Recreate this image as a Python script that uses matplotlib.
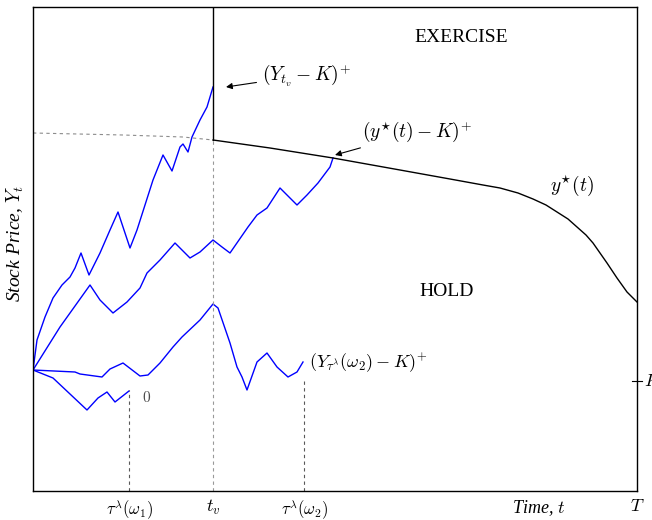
import numpy as np
import matplotlib
matplotlib.use('Agg')
import matplotlib.pyplot as plt

plt.rcParams['mathtext.fontset'] = 'cm'
plt.rcParams['font.family'] = 'Liberation Serif'

# --- data (time t, price s) ---
path1_t = [0, 4, 12, 20, 29, 37, 42, 48, 56, 67, 77, 85, 91, 97, 104, 120, 130, 139, 147, 150, 155, 159, 167, 174, 180]
path1_s = [121, 151, 174, 193, 206, 214, 223, 238, 216, 238, 261, 279, 261, 243, 261, 311, 336, 320, 344, 347, 339, 354, 371, 384, 404]

path2_t = [0, 27, 57, 67, 80, 94, 107, 114, 127, 142, 157, 167, 180, 189, 197, 215, 224, 234, 247, 264, 274, 285, 297, 300]
path2_s = [121, 164, 206, 191, 178, 189, 203, 218, 231, 248, 233, 239, 251, 244, 238, 264, 276, 283, 303, 286, 296, 308, 324, 333]

path3_t = [0, 42, 47, 69, 77, 90, 107, 115, 127, 140, 149, 167, 180, 185, 197, 204, 209, 214, 224, 234, 244, 255, 264, 270]
path3_s = [121, 119, 117, 114, 122, 128, 115, 116, 128, 144, 154, 171, 187, 183, 148, 124, 114, 101, 129, 138, 124, 114, 119, 129]

path4_t = [0, 20, 54, 65, 74, 82, 96]
path4_s = [121, 113, 81, 93, 99, 89, 100]

bound_t = [180, 237, 300, 367, 417, 450, 467, 485, 500, 513, 524, 535, 544, 553, 560, 567, 574, 584, 594, 604]
bound_s = [351, 343, 333, 321, 312, 306, 303, 298, 292, 286, 279, 272, 264, 256, 248, 238, 228, 213, 199, 189]

ext_t = [0, 90, 150, 180]
ext_s = [358, 356, 354, 351]

T = 604
S_TOP = 484
K = 110
t_v = 180
tau1, tau1_s = 96, 101
tau2, tau2_s = 271, 113

fig = plt.figure(figsize=(6.52, 5.2), dpi=100)
ax = fig.add_axes([33/652, 29/520, 604/652, 484/520])

# sample paths
for pt, ps in [(path1_t, path1_s), (path2_t, path2_s), (path3_t, path3_s), (path4_t, path4_s)]:
    ax.plot(pt, ps, color='blue', lw=1.0)

# exercise boundary
ax.plot([t_v, t_v], [S_TOP, bound_s[0]], color='black', lw=1.0)
ax.plot(bound_t, bound_s, color='black', lw=1.0)
ax.plot(ext_t, ext_s, color='0.55', lw=0.8, ls=(0, (3, 3)))

# dashed verticals
ax.plot([t_v, t_v], [0, bound_s[0]], color='0.6', lw=0.8, ls=(0, (3, 3)))
ax.plot([tau1, tau1], [0, tau1_s], color='0.35', lw=0.8, ls=(0, (3, 3)))
ax.plot([tau2, tau2], [0, tau2_s], color='0.35', lw=0.8, ls=(0, (3, 3)))

# K tick on right spine
ax.plot([T - 5, T + 5], [K, K], color='black', lw=0.8, clip_on=False)
ax.text(T + 7, K, '$K$', fontsize=13, va='center', ha='left')

ax.set_xlim(0, T)
ax.set_ylim(0, S_TOP)
ax.set_xticks([tau1, t_v, tau2, T])
ax.set_xticklabels([r'$\tau^{\lambda}(\omega_1)$', r'$t_v$', r'$\tau^{\lambda}(\omega_2)$', r'$T$'])
for lab, fs in zip(ax.get_xticklabels(), [12, 13, 12, 13]):
    lab.set_fontsize(fs)
ax.tick_params(axis='x', length=0, pad=5)
ax.set_yticks([])
for sp in ax.spines.values():
    sp.set_linewidth(1.0)

ax.text(505, -17, 'Time, $t$', fontsize=13, style='italic', ha='center', va='center')
ax.set_ylabel('Stock Price, $Y_t$', fontsize=14, style='italic')
ax.yaxis.set_label_coords(-0.012, 0.512)

ax.text(428, 454, 'EXERCISE', fontsize=14, ha='center', va='center')
ax.text(414, 200, 'HOLD', fontsize=14, ha='center', va='center')
ax.text(539, 305, r'$y^{\star}(t)$', fontsize=14, ha='center', va='center')
ax.text(114, 94, '$0$', fontsize=11, ha='center', va='center', color='0.3')
ax.text(276, 128, r'$(Y_{\tau^{\lambda}}(\omega_2) - K)^{+}$', fontsize=13, ha='left', va='center')

ax.annotate(r'$(Y_{t_v} - K)^{+}$', xy=(193, 404), xytext=(229, 416), fontsize=14,
            va='center', ha='left',
            arrowprops=dict(arrowstyle='-|>', color='black', lw=0.8, mutation_scale=9, shrinkA=2, shrinkB=0))
ax.annotate(r'$(y^{\star}(t) - K)^{+}$', xy=(302, 336), xytext=(329, 359), fontsize=14,
            va='center', ha='left',
            arrowprops=dict(arrowstyle='-|>', color='black', lw=0.8, mutation_scale=9, shrinkA=2, shrinkB=0))

fig.savefig('out.png', dpi=100)
